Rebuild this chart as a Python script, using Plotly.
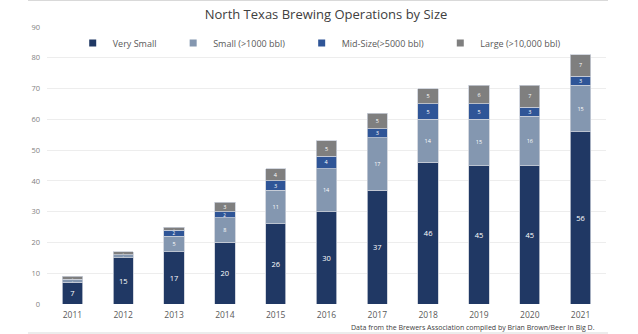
import plotly.graph_objects as go

years = ["2011", "2012", "2013", "2014", "2015", "2016", "2017", "2018", "2019", "2020", "2021"]
very_small = [7, 15, 17, 20, 26, 30, 37, 46, 45, 45, 56]
small = [1, 1, 5, 8, 11, 14, 17, 14, 15, 16, 15]
mid_size = [0, 0, 2, 2, 3, 4, 3, 5, 5, 3, 3]
large = [1, 1, 1, 3, 4, 5, 5, 5, 6, 7, 7]

series = [
    ("Very Small", very_small, "#203864", 7.5),
    ("Small (>1000 bbl)", small, "#8497B0", 5.5),
    ("Mid-Size(>5000 bbl)", mid_size, "#2F5597", 5.5),
    ("Large (>10,000 bbl)", large, "#7F7F7F", 5.5),
]


def label_size(v, fs):
    if v <= 1:
        return 2.5
    if v == 2:
        return 4.5
    return fs


FONT = "Open Sans"
PAD = "\u00a0" * 5
fig = go.Figure()
for name, vals, color, fs in series:
    fig.add_trace(go.Bar(
        x=years, y=vals, name=name, showlegend=False,
        marker=dict(color=color, line=dict(color="#C9CED8", width=0.8)),
        text=[str(v) if v else "" for v in vals],
        textposition="inside", insidetextanchor="middle",
        constraintext="none", textangle=0,
        textfont=dict(color="white", size=[label_size(v, fs) for v in vals], family=FONT),
        hoverinfo="skip",
    ))
# legend entries (small square swatches like the original)
for name, vals, color, fs in series:
    fig.add_trace(go.Scatter(
        x=[None], y=[None], mode="markers", name=name + PAD,
        marker=dict(symbol="square", size=7, color=color),
        hoverinfo="skip",
    ))

fig.update_layout(
    width=638, height=334,
    margin=dict(l=47, r=32, t=27, b=30),
    barmode="stack", bargap=0.6,
    plot_bgcolor="white", paper_bgcolor="white",
    font=dict(family=FONT, color="#595959"),
    title=dict(text="North Texas Brewing Operations by Size",
               x=0.511, xanchor="center", y=1 - 14 / 334, yanchor="middle",
               font=dict(size=13, color="#404040", family=FONT)),
    legend=dict(orientation="h", x=0.046, xanchor="left", y=0.942, yanchor="middle",
                font=dict(size=9, color="#595959"), bgcolor="rgba(0,0,0,0)",
                itemwidth=30, traceorder="normal"),
    showlegend=True,
    xaxis=dict(showgrid=False, showline=False, ticks="", ticklabelstandoff=4,
               tickfont=dict(size=8.5, color="#595959")),
    yaxis=dict(range=[0, 90], dtick=10, gridcolor="#EDEDED", gridwidth=1,
               zeroline=False, showline=False, ticks="", ticklabelstandoff=6,
               tickfont=dict(size=7.5, color="#7F7F7F")),
    annotations=[dict(text="Data from the Brewers Association compiled by Brian Brown/Beer In Big D.",
                      xref="paper", yref="paper", x=0.984, y=-0.086, xanchor="right", yanchor="middle",
                      showarrow=False, font=dict(size=7, color="#404040", family=FONT))],
    shapes=[
        dict(type="line", xref="paper", yref="paper", x0=-0.034, x1=1.0036, y0=1.0957, y1=1.0957,
             line=dict(color="#D9D9D9", width=1)),
        dict(type="line", xref="paper", yref="paper", x0=-0.034, x1=1.0036, y0=-0.1047, y1=-0.1047,
             line=dict(color="#D9D9D9", width=1)),
    ],
)

fig.write_html("out.html")
